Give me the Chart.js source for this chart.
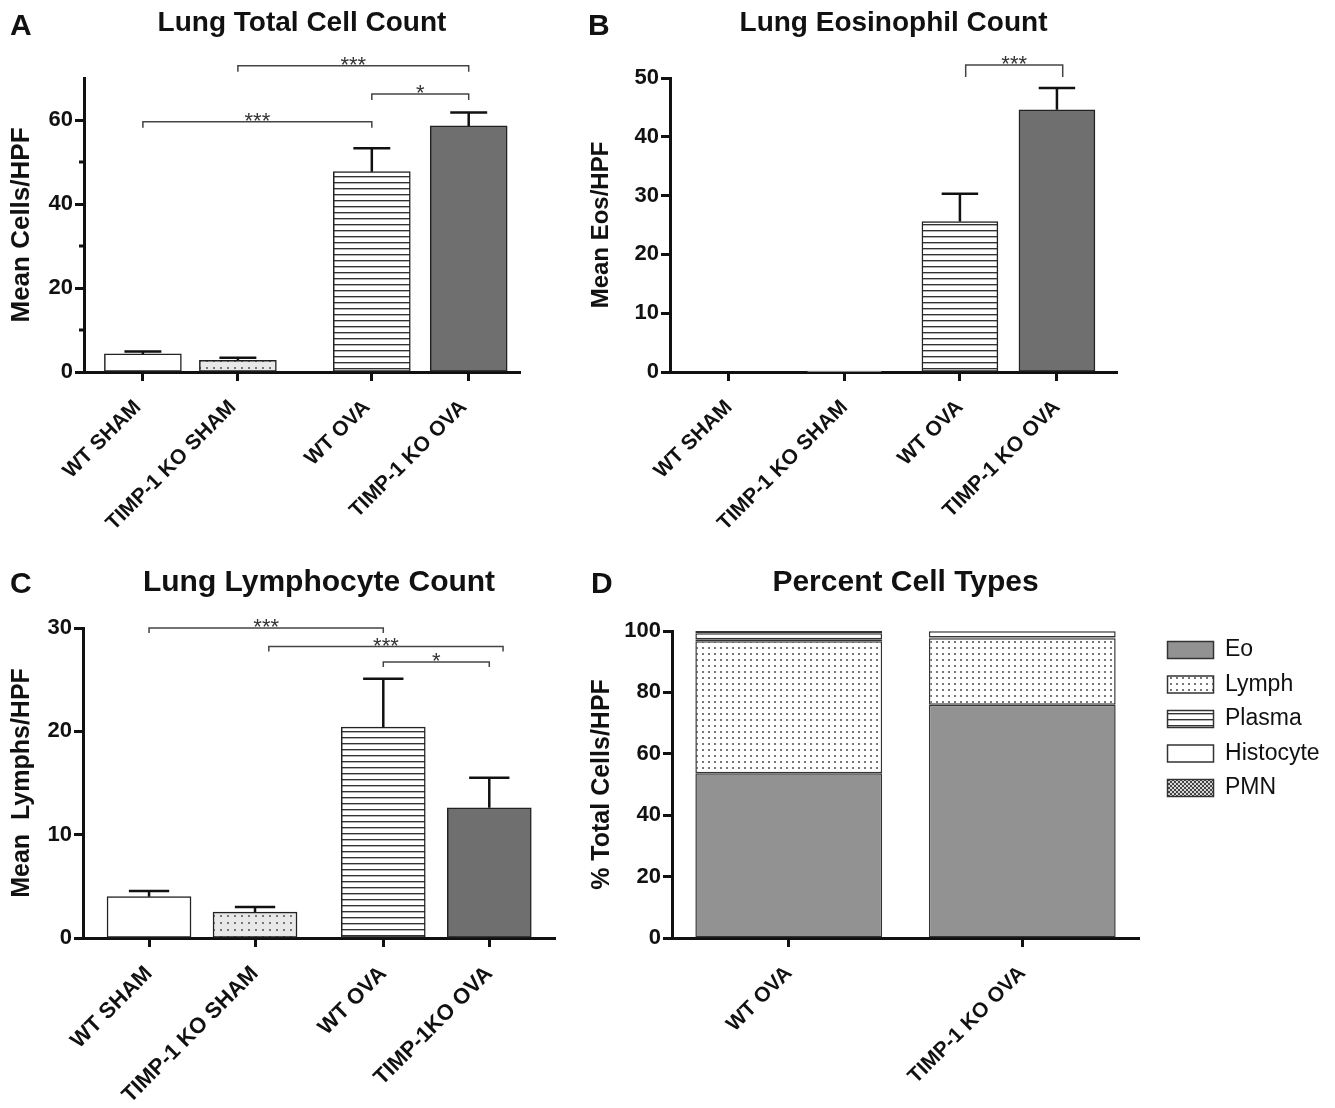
<!DOCTYPE html>
<html lang="en">
<head>
<meta charset="UTF-8">
<title>Lung cell counts - TIMP-1 KO vs WT</title>
<script src="https://cdn.jsdelivr.net/npm/chart.js"></script>
<style>
  html, body { margin: 0; padding: 0; background: #fff; }
  #figure { position: relative; width: 1335px; height: 1108px; overflow: hidden; font-family: 'Liberation Sans', Arial, sans-serif; }
  .panel { position: absolute; }
  .panel canvas { display: block; }
  .letter { position: absolute; font-weight: bold; font-size: 30px; line-height: 30px; color: #111; }
</style>
</head>
<body>
<div id="figure">
  <div class="panel" style="left:0;top:0"><canvas id="chartA" width="560" height="555"></canvas></div>
  <div class="panel" style="left:580px;top:0"><canvas id="chartB" width="560" height="555"></canvas></div>
  <div class="panel" style="left:0;top:555px"><canvas id="chartC" width="560" height="553"></canvas></div>
  <div class="panel" style="left:580px;top:555px"><canvas id="chartD" width="755" height="553"></canvas></div>
  <div class="letter" style="left:10px;top:10px">A</div>
  <div class="letter" style="left:588px;top:10px">B</div>
  <div class="letter" style="left:10px;top:568px">C</div>
  <div class="letter" style="left:591px;top:568px">D</div>
</div>

<script>
// ---------- data ----------
const groups  = ['WT SHAM', 'TIMP-1 KO SHAM', 'WT OVA', 'TIMP-1 KO OVA'];
const groupsC = ['WT SHAM', 'TIMP-1 KO SHAM', 'WT OVA', 'TIMP-1KO OVA'];

const totalMean = [4.3, 2.8, 47.7, 58.6];
const totalSem  = [0.6, 0.6, 5.6, 3.2];

const eosMean = [0, 0.15, 25.6, 44.6];
const eosSem  = [0, 0, 4.7, 3.7];

const lymphMean = [4.0, 2.5, 20.4, 12.6];
const lymphSem  = [0.55, 0.5, 4.7, 2.9];

const pctGroups = ['WT OVA', 'TIMP-1 KO OVA'];
const cellTypes = ['Eo', 'Lymph', 'Plasma', 'Histocyte', 'PMN'];
const pctEo     = [53.7, 76.0];
const pctLymph  = [43.0, 21.6];
const pctPlasma = [0.6, 0.3];
const pctHisto  = [2.0, 2.0];
const pctPMN    = [0.7, 0.1];

// significance brackets (bar index -> bar index, height in axis units)
const sigA = [
  { from: 0, to: 2, y: 59.6, label: '***' },
  { from: 1, to: 3, y: 72.9, label: '***' },
  { from: 2, to: 3, y: 66.2, label: '*' }
];
const sigB = [
  { from: 2, to: 3, y: 52.2, label: '***' }
];
const sigC = [
  { from: 0, to: 2, y: 30.0, label: '***' },
  { from: 1, to: 3, y: 28.2, label: '***' },
  { from: 2, to: 3, y: 26.7, label: '*' }
];

// ---------- layout ----------
// bar slots on the x axis: SHAM pair, then a wider gap, then OVA pair
const slotsA = [1, 2, 3.41, 4.43];
const slotsB = [1, 2, 3, 3.84];
const slotsC = [1, 2, 3.21, 4.21];
// sideways nudge of each bracket, in x-axis units
const sigShiftA = [0, 0, 0];
const sigShiftB = [0.05];
const sigShiftC = [0, 0.13, 0];

const FONT = "'Liberation Sans', Arial, sans-serif";
Chart.defaults.font.family = FONT;
Chart.defaults.color = '#111';

// fill patterns like the GraphPad ones
function makePattern(kind) {
  const c = document.createElement('canvas');
  const g = c.getContext('2d');
  if (kind === 'lines') {
    c.width = 6; c.height = 6;
    g.fillStyle = '#fff'; g.fillRect(0, 0, 6, 6);
    g.fillStyle = '#333'; g.fillRect(0, 2, 6, 1);
    g.fillStyle = 'rgba(0,0,0,0.3)'; g.fillRect(0, 3, 6, 1);
  } else if (kind === 'dotsGrey') {
    c.width = 7; c.height = 7;
    g.fillStyle = '#e8e8e8'; g.fillRect(0, 0, 7, 7);
    g.fillStyle = '#777'; g.fillRect(3, 3, 2, 2);
  } else if (kind === 'dotsWhite') {
    c.width = 6; c.height = 6;
    g.fillStyle = '#fff'; g.fillRect(0, 0, 6, 6);
    g.fillStyle = '#777'; g.fillRect(2, 2, 2, 2);
  } else if (kind === 'checks') {
    c.width = 4; c.height = 4;
    g.fillStyle = '#d8d8d8'; g.fillRect(0, 0, 4, 4);
    g.fillStyle = '#444'; g.fillRect(0, 0, 2, 2); g.fillRect(2, 2, 2, 2);
  }
  return g.createPattern(c, 'repeat');
}
const linesFill = makePattern('lines');
const dotsGrey = makePattern('dotsGrey');
const dotsWhite = makePattern('dotsWhite');
const checksFill = makePattern('checks');
const groupFills = ['#ffffff', dotsGrey, linesFill, '#6f6f6f'];

// error bars (upper only), minor ticks and significance brackets
function annotate(cfg) {
  return {
    id: 'annotate',
    afterDatasetsDraw(chart) {
      const ctx = chart.ctx;
      const xs = chart.scales.x;
      const ys = chart.scales.y;
      const bars = chart.getDatasetMeta(0).data;
      ctx.save();
      ctx.strokeStyle = '#111';
      ctx.lineCap = 'butt';

      // minor ticks on the y axis
      ctx.lineWidth = 3;
      (cfg.minor || []).forEach(v => {
        const py = ys.getPixelForValue(v);
        ctx.beginPath();
        ctx.moveTo(ys.right - 5, py);
        ctx.lineTo(ys.right, py);
        ctx.stroke();
      });

      // SEM whiskers
      ctx.lineWidth = 2.5;
      bars.forEach((bar, i) => {
        if (!cfg.sem[i]) return;
        const top = ys.getPixelForValue(cfg.mean[i] + cfg.sem[i]);
        const half = bar.width * 0.24;
        ctx.beginPath();
        ctx.moveTo(bar.x, bar.y);
        ctx.lineTo(bar.x, top);
        ctx.moveTo(bar.x - half, top);
        ctx.lineTo(bar.x + half, top);
        ctx.stroke();
      });

      // brackets
      ctx.lineWidth = 1.5;
      ctx.strokeStyle = '#444';
      ctx.fillStyle = '#333';
      ctx.font = '22px ' + FONT;
      ctx.textAlign = 'center';
      ctx.textBaseline = 'alphabetic';
      (cfg.sig || []).forEach((s, k) => {
        const shift = (cfg.shift && cfg.shift[k]) || 0;
        const x1 = xs.getPixelForValue(cfg.slots[s.from] + shift);
        const x2 = xs.getPixelForValue(cfg.slots[s.to] + shift);
        const py = ys.getPixelForValue(s.y);
        ctx.beginPath();
        ctx.moveTo(x1, py + cfg.drop);
        ctx.lineTo(x1, py);
        ctx.lineTo(x2, py);
        ctx.lineTo(x2, py + cfg.drop);
        ctx.stroke();
        ctx.fillText(s.label, (x1 + x2) / 2, py + 6);
      });
      ctx.restore();
    }
  };
}

const axisLine = { display: true, width: 3, color: '#111' };
const tickMarks = { display: true, drawOnChartArea: false, offset: false, tickLength: 9, tickWidth: 3, tickColor: '#111' };

function countChart(id, o) {
  return new Chart(document.getElementById(id), {
    type: 'bar',
    data: {
      datasets: [{
        data: o.slots.map((x, i) => ({ x: x, y: o.mean[i] })),
        backgroundColor: groupFills,
        borderColor: '#222',
        borderWidth: 1.5,
        borderSkipped: false,
        barThickness: o.barWidth
      }]
    },
    options: {
      responsive: false,
      animation: false,
      layout: { padding: { left: 0, right: o.padRight, top: 0, bottom: 0 } },
      plugins: {
        legend: { display: false },
        tooltip: { enabled: false },
        title: {
          display: true, text: o.title, fullSize: false, color: '#111',
          font: { size: o.titleSize, weight: 'bold' },
          padding: o.titlePad
        }
      },
      scales: {
        x: {
          type: 'linear', min: o.xmin, max: o.xmax, offset: false,
          afterBuildTicks: ax => { ax.ticks = o.slots.map(v => ({ value: v })); },
          afterFit: ax => { ax.height = o.xHeight; },
          ticks: {
            autoSkip: false, minRotation: 45, maxRotation: 45, padding: 14,
            labelOffset: o.labelShift,
            font: { size: o.labelSize, weight: 'bold' }, color: '#111',
            callback: (v, i) => o.labels[i]
          },
          grid: tickMarks,
          border: axisLine
        },
        y: {
          min: 0, max: o.ymax,
          afterBuildTicks: ax => { ax.ticks = ax.ticks.filter(t => t.value % o.step === 0); },
          afterFit: ax => { ax.width = o.yWidth; },
          ticks: { stepSize: o.step, padding: 2, font: { size: 22, weight: 'bold' }, color: '#111' },
          grid: tickMarks,
          border: axisLine,
          title: {
            display: true, text: o.yTitle, color: '#111',
            font: { size: o.yTitleSize, weight: 'bold' },
            padding: { top: o.yTitleGap, bottom: 0 }
          }
        }
      }
    },
    plugins: [annotate({ slots: o.slots, mean: o.mean, sem: o.sem, sig: o.sig, shift: o.sigShift, drop: o.drop, minor: o.minor })]
  });
}

// A - total cells
countChart('chartA', {
  title: 'Lung Total Cell Count', yTitle: 'Mean Cells/HPF',
  labels: groups, mean: totalMean, sem: totalSem, sig: sigA, sigShift: sigShiftA, drop: 6,
  slots: slotsA, xmin: 0.38, xmax: 4.97, ymax: 70, step: 20, minor: [10, 30, 50],
  barWidth: 77, yWidth: 84, xHeight: 183, padRight: 40,
  titleSize: 28, titlePad: { top: 6.7, bottom: 37.7 },
  yTitleSize: 26, yTitleGap: 6.4, labelSize: 21, labelShift: -5
});

// B - eosinophils
countChart('chartB', {
  title: 'Lung Eosinophil Count', yTitle: 'Mean Eos/HPF',
  labels: groups, mean: eosMean, sem: eosSem, sig: sigB, sigShift: sigShiftB, drop: 12,
  slots: slotsB, xmin: 0.49, xmax: 4.36, ymax: 50, step: 10,
  barWidth: 76, yWidth: 90, xHeight: 183, padRight: 23,
  titleSize: 28, titlePad: { top: 6.7, bottom: 37.7 },
  yTitleSize: 24, yTitleGap: 6.6, labelSize: 21, labelShift: 0
});

// C - lymphocytes
countChart('chartC', {
  title: 'Lung Lymphocyte Count', yTitle: 'Mean  Lymphs/HPF',
  labels: groupsC, mean: lymphMean, sem: lymphSem, sig: sigC, sigShift: sigShiftC, drop: 5,
  slots: slotsC, xmin: 0.377, xmax: 4.83, ymax: 30, step: 10,
  barWidth: 84, yWidth: 83, xHeight: 170, padRight: 5,
  titleSize: 30, titlePad: { top: 10, bottom: 27 },
  yTitleSize: 25, yTitleGap: 7, labelSize: 22, labelShift: 0
});

// D - percent cell types (stacked)
const nudgeLegend = {
  id: 'nudgeLegend',
  afterLayout(chart) {
    const lg = chart.legend;
    lg.left += 17; lg.right += 17;
    lg.top += 72; lg.bottom += 72;
  }
};

const pctSeries = [pctEo, pctLymph, pctPlasma, pctHisto, pctPMN];
const pctFills = ['#929292', dotsWhite, linesFill, '#ffffff', checksFill];

new Chart(document.getElementById('chartD'), {
  type: 'bar',
  data: {
    labels: pctGroups,
    datasets: cellTypes.map((name, i) => ({
      label: name,
      data: pctSeries[i],
      backgroundColor: pctFills[i],
      borderColor: '#333',
      borderWidth: 1.5,
      borderSkipped: false,
      barPercentage: 0.8,
      categoryPercentage: 1
    }))
  },
  options: {
    responsive: false,
    animation: false,
    layout: { padding: { left: 0, right: 22.4, top: 0, bottom: 0 } },
    plugins: {
      tooltip: { enabled: false },
      title: {
        display: true, text: 'Percent Cell Types', fullSize: false, color: '#111',
        font: { size: 30, weight: 'bold' },
        padding: { top: 10, bottom: 30 }
      },
      legend: {
        display: true, position: 'right', align: 'start',
        labels: { boxWidth: 46, boxHeight: 17, padding: 11.5, color: '#111', font: { size: 23 } }
      }
    },
    scales: {
      x: {
        stacked: true,
        afterFit: ax => { ax.height = 170; },
        ticks: { autoSkip: false, minRotation: 45, maxRotation: 45, padding: 14, font: { size: 21, weight: 'bold' }, color: '#111' },
        grid: tickMarks,
        border: axisLine
      },
      y: {
        stacked: true, min: 0, max: 100,
        afterFit: ax => { ax.width = 92; },
        ticks: { stepSize: 20, padding: 2, font: { size: 22, weight: 'bold' }, color: '#111' },
        grid: tickMarks,
        border: axisLine,
        title: {
          display: true, text: '% Total Cells/HPF', color: '#111',
          font: { size: 25, weight: 'bold' },
          padding: { top: 7, bottom: 0 }
        }
      }
    }
  },
  plugins: [nudgeLegend]
});
</script>
</body>
</html>
